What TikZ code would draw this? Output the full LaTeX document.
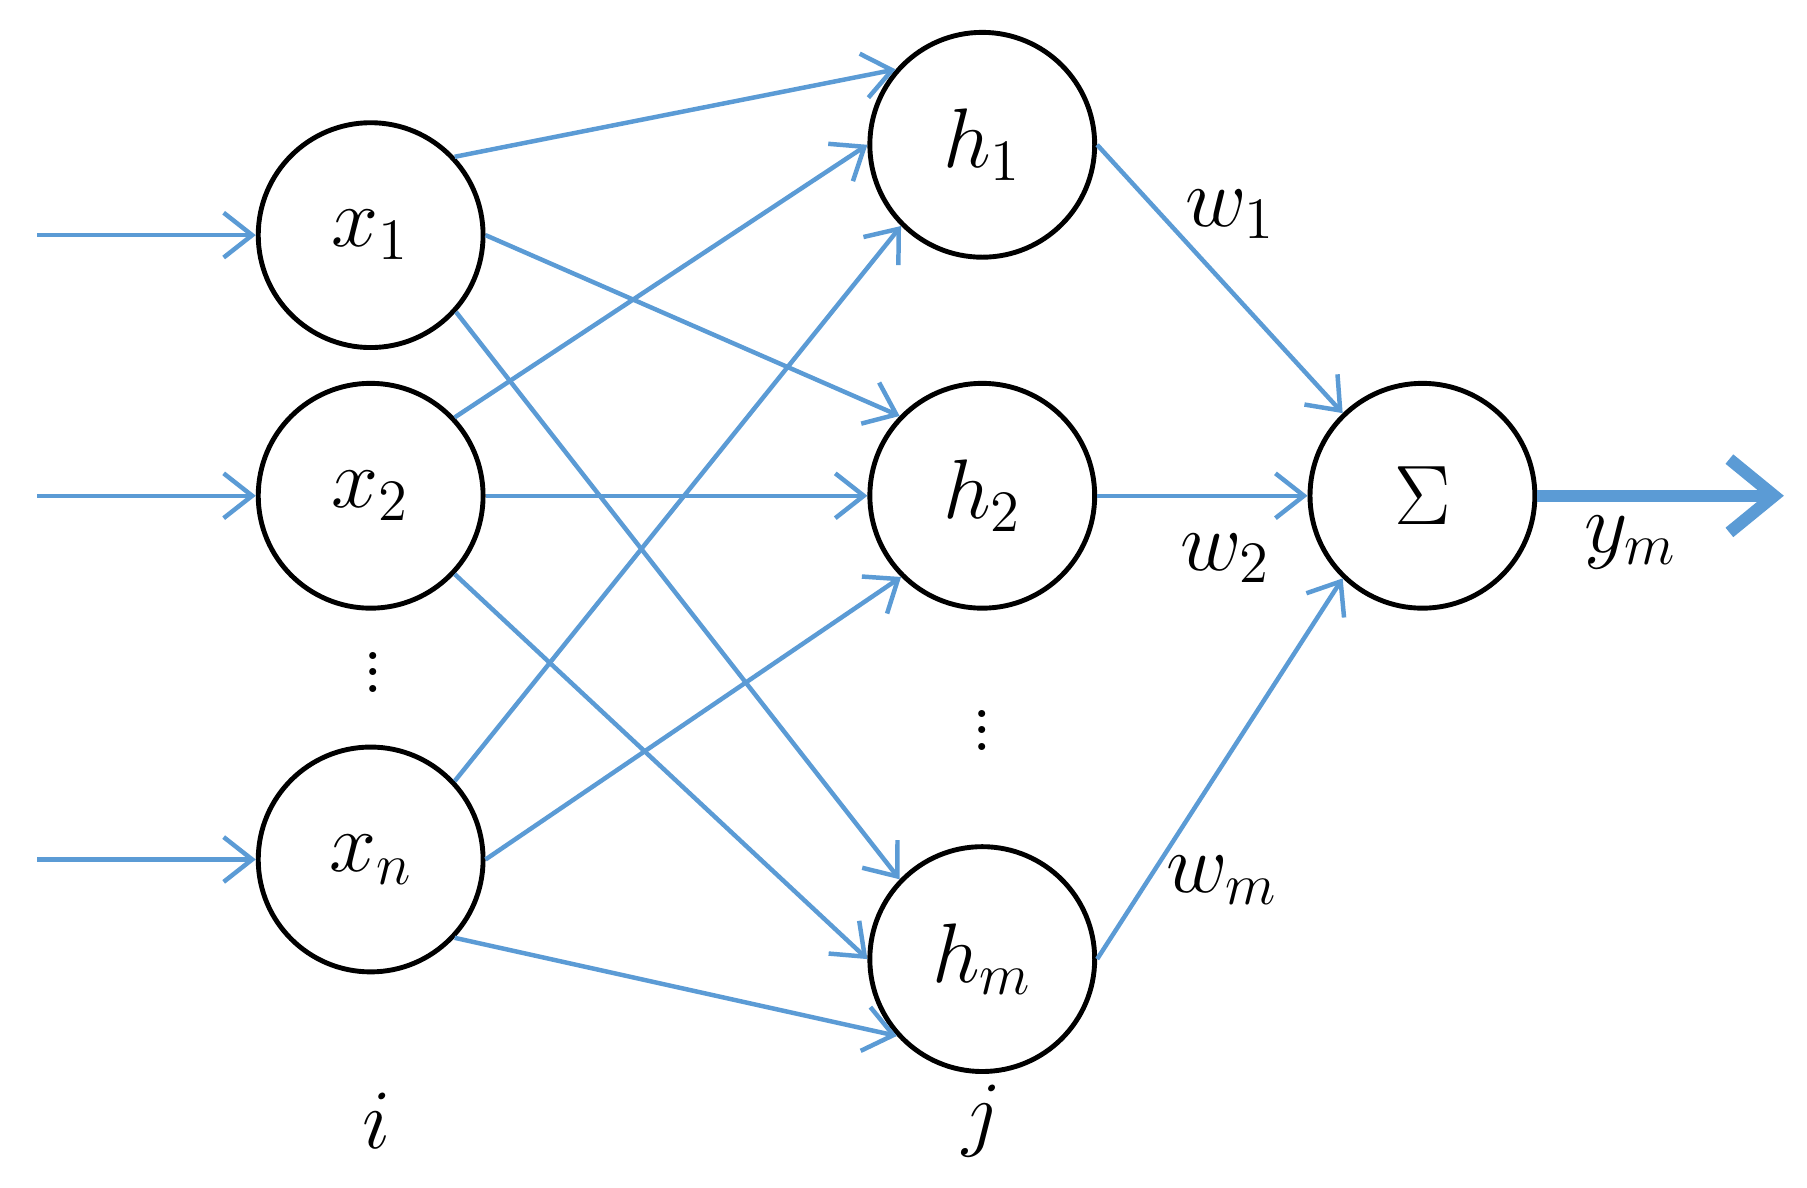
\documentclass[tikz,border=0pt]{standalone}
\usetikzlibrary{arrows.meta}
\begin{document}
\begin{tikzpicture}[x=0.01cm,y=-0.01cm,
  neuron/.style={circle,draw=black,line width=1.2pt,minimum size=1.94cm,inner sep=0pt,font=\fontsize{21}{25}\selectfont},
  con/.style={draw=cblue,line width=1.1pt,-{Straight Barb[length=7pt,width=11pt,line width=1.1pt]}},
  lab/.style={font=\fontsize{21}{25}\selectfont}]
\definecolor{cblue}{RGB}{91,155,213}
\useasboundingbox (0,0) rectangle (1560,1025);
\node[neuron] (x1) at (320,203) {$x_1$};
\node[neuron] (x2) at (320,428) {$x_2$};
\node[neuron] (xn) at (320,742) {$x_n$};
\node[neuron] (h1) at (848,125) {$h_1$};
\node[neuron] (h2) at (848,428) {$h_2$};
\node[neuron] (hm) at (848,828) {$h_m$};
\node[neuron] (s) at (1228,428) {$\Sigma$};
\coordinate (i1) at (32,203);
\coordinate (i2) at (32,428);
\coordinate (i3) at (32,742);
\coordinate (out) at (1540,428);
\draw[con] (i1) -- (x1.west);
\draw[con] (i2) -- (x2.west);
\draw[con] (i3) -- (xn.west);
\draw[con] (x1.43) -- (h1.139);
\draw[con] (x1.0) -- (h2.136);
\draw[con] (x1.-42) -- (hm.136);
\draw[con] (x2.43) -- (h1.180);
\draw[con] (x2.0) -- (h2.180);
\draw[con] (x2.-43) -- (hm.180);
\draw[con] (xn.43) -- (h1.225);
\draw[con] (xn.0) -- (h2.225);
\draw[con] (xn.-43) -- (hm.222);
\draw[con] (h1.0) -- (s.134);
\draw[con] (h2.0) -- (s.180);
\draw[con] (hm.0) -- (s.226);
\draw[draw=cblue,line width=3pt,-{Straight Barb[length=11pt,width=18pt,line width=3pt]}] (s.east) -- (out);
\node[lab] (w1) at (1062,185) {$w_1$};
\node[lab] (w2) at (1058,482) {$w_2$};
\node[lab] (wm) at (1055,760) {$w_m$};
\node[lab] (ym) at (1408,468) {$y_m$};
\node[lab] (li) at (325,968) {$i$};
\node[lab] (lj) at (848,968) {$j$};
\node[lab] (d1) at (322,570) {$\vdots$};
\node[lab] (d2) at (848,620) {$\vdots$};
\end{tikzpicture}
\end{document}
